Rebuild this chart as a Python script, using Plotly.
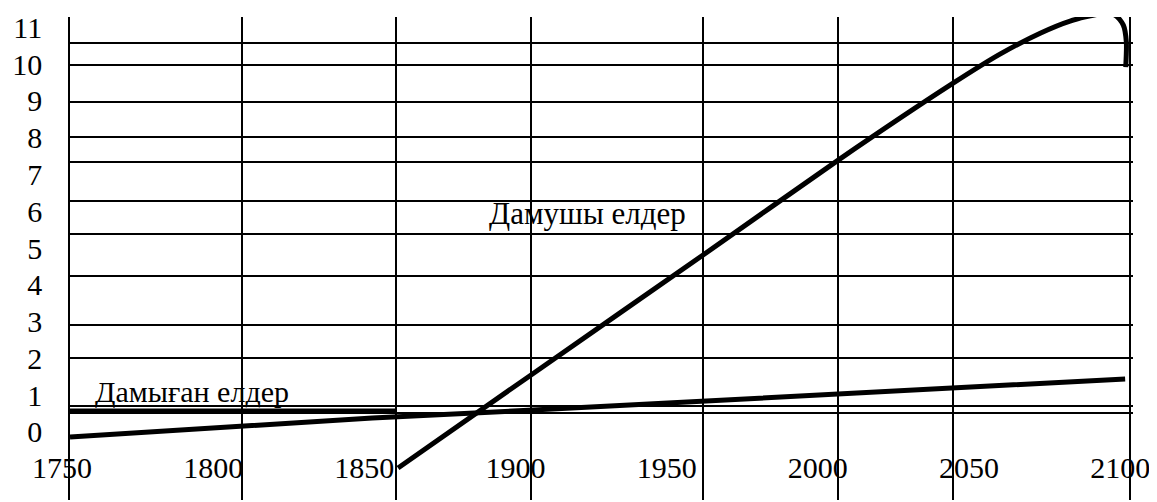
import plotly.graph_objects as go

# ---- data (x in years, y in chart units) ----
x_years = [1750, 1800, 1850, 1900, 1950, 2000, 2050, 2100]
x_labels = ["1750", "1800", "1850", "1900", "1950", "2000", "2050", "2100"]
y_ticks = [0, 1, 2, 3, 4, 5, 6, 7, 8, 9, 10, 11]
y_labels = ["0", "1", "2", "3", "4", "5", "6", "7", "8", "9", "10", "11"]

# drawn grid lines of the original figure
x_grid = [1750, 1806.9, 1857.8, 1902.5, 1959.4, 2004.0, 2042.1, 2100.5]
y_grid = [10.57, 9.97, 8.97, 8.02, 7.34, 6.28, 5.38, 4.24, 2.91, 2.01, 0.71, 0.52]

# developed countries (Дамыған елдер)
dev_years = [1750, 1800, 1850, 1900, 1950, 2000, 2050, 2099]
dev_values = [-0.14, 0.11, 0.38, 0.58, 0.80, 0.99, 1.23, 1.44]

# flat segment 1750-1858
flat_years = [1750, 1858]
flat_values = [0.57, 0.57]

# developing countries (Дамушы елдер)
dvg_years = [1858.5, 1902.5, 1959.4, 2004.1, 2042.1, 2057.6, 2070.9,
             2080.8, 2090.7, 2095.7, 2098.4, 2099.4, 2099.2]
dvg_values = [-0.98, 1.55, 4.81, 7.39, 9.48, 10.27, 10.84,
              11.17, 11.36, 11.33, 11.06, 10.60, 9.92]

FONT = "Liberation Serif"
FS = 30
x_range = [1750, 2101.6]
y_range = [-1.85, 11.28]

fig = go.Figure()
fig.add_trace(go.Scatter(x=dev_years, y=dev_values, mode="lines",
                         line=dict(color="black", width=5), hoverinfo="skip"))
fig.add_trace(go.Scatter(x=flat_years, y=flat_values, mode="lines",
                         line=dict(color="black", width=5), hoverinfo="skip"))
fig.add_trace(go.Scatter(x=dvg_years, y=dvg_values, mode="lines",
                         line=dict(color="black", width=5, shape="spline", smoothing=0.7),
                         hoverinfo="skip"))
# carrier for grid axes
fig.add_trace(go.Scatter(x=[None], y=[None], xaxis="x2", yaxis="y2",
                         showlegend=False, hoverinfo="skip"))

fig.add_annotation(x=1921.3, y=5.95, text="Дамушы елдер", showarrow=False,
                   font=dict(family=FONT, size=31, color="black"))
fig.add_annotation(x=1790.4, y=1.09, text="Дамыған елдер", showarrow=False,
                   font=dict(family=FONT, size=FS, color="black"))

# the page body adds an 8px offset; size the figure so it fits the window
fig.update_layout(
    width=1149, height=494,
    margin=dict(l=62, r=24, t=9, b=2, autoexpand=False),
    paper_bgcolor="white", plot_bgcolor="white",
    showlegend=False,
    font=dict(family=FONT, size=FS, color="black"),
    xaxis=dict(range=x_range, tickvals=x_years, ticktext=x_labels,
               showgrid=False, zeroline=False, showline=False, ticks="",
               anchor="free", position=0.11, automargin=False,
               ticklabeloverflow="allow",
               tickfont=dict(family=FONT, size=FS, color="black"),
               ticklabelshift=-8),
    yaxis=dict(range=y_range, tickvals=y_ticks, ticktext=y_labels,
               showgrid=False, zeroline=False, showline=True,
               linecolor="black", linewidth=1.5, ticks="", automargin=False,
               tickfont=dict(family=FONT, size=FS, color="black"),
               ticklabelstandoff=20),
    xaxis2=dict(range=x_range, overlaying="x", anchor="y2", tickvals=x_grid,
                showticklabels=False, showgrid=True, gridcolor="black",
                gridwidth=1.5, zeroline=False, showline=False, ticks="",
                automargin=False),
    yaxis2=dict(range=y_range, overlaying="y", anchor="x2", tickvals=y_grid,
                showticklabels=False, showgrid=True, gridcolor="black",
                gridwidth=1.5, zeroline=False, showline=False, ticks="",
                automargin=False),
)

fig.write_html("out.html")
